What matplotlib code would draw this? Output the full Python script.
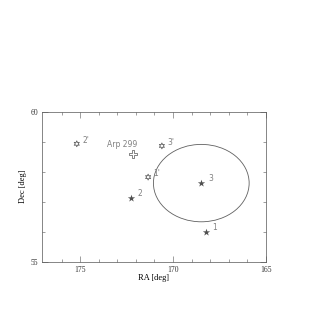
import matplotlib
matplotlib.use("Agg")
import matplotlib.pyplot as plt
from matplotlib.patches import Ellipse

# data
star_names = ["1", "2", "3"]
star_ra = [168.24, 172.27, 168.49]
star_dec = [56.00, 57.11, 57.62]

prime_names = ["1'", "2'", "3'"]
prime_ra = [171.34, 175.18, 170.60]
prime_dec = [57.82, 58.93, 58.86]

arp_name = "Arp 299"
arp_ra = [172.13]
arp_dec = [58.58]

circle_center = (168.48, 57.62)
circle_width = 5.15
circle_height = 2.58

fig = plt.figure(figsize=(3.17, 3.30), dpi=100)
ax = fig.add_axes([0.1325, 0.207, 0.7065, 0.4545])

gray = "#808080"
ax.scatter(star_ra, star_dec, marker="*", s=30, color="#505050", zorder=3,
           linewidth=0)
ax.scatter(prime_ra, prime_dec, marker=(6, 1, 0), s=18, facecolor="none",
           edgecolor="#606060", linewidth=0.6, zorder=3)
ax.scatter(arp_ra, arp_dec, marker="P", s=32, facecolor="white",
           edgecolor="#707070", linewidth=0.6, zorder=3)

for n, x, y in zip(star_names, star_ra, star_dec):
    ax.annotate(n, (x, y), xytext=(5, 0), textcoords="offset points",
                fontsize=5.5, color=gray, family="DejaVu Sans", va="bottom")
for n, x, y in zip(prime_names, prime_ra, prime_dec):
    ax.annotate(n, (x, y), xytext=(4, -1), textcoords="offset points",
                fontsize=5.5, color=gray, family="DejaVu Sans", va="bottom")
ax.annotate(arp_name, (arp_ra[0], arp_dec[0]), xytext=(-8, 4),
            textcoords="offset points", fontsize=5.5, color=gray,
            family="DejaVu Sans", ha="center", va="bottom")

ax.add_patch(Ellipse(circle_center, circle_width, circle_height,
                     facecolor="none", edgecolor="#606060", linewidth=0.6))

ax.set_xlim(177.05, 165)
ax.set_ylim(55, 60)
ax.set_xticks([175, 170, 165])
ax.set_xticks(range(166, 177), minor=True)
ax.set_yticks([55, 60])
ax.set_yticks([56, 57, 58, 59], minor=True)
ax.tick_params(which="both", direction="in", top=True, right=True,
               labelsize=5.5, colors="#555555", width=0.4, labelcolor="#333333")
ax.tick_params(which="major", length=4, pad=3)
ax.tick_params(which="minor", length=2.5)
for lab in ax.get_xticklabels() + ax.get_yticklabels():
    lab.set_family("Liberation Serif")
for s in ax.spines.values():
    s.set_linewidth(0.5)
    s.set_color("#555555")

ax.set_xlabel("RA [deg]", fontsize=6, family="Liberation Serif", labelpad=0)
ax.set_ylabel("Dec [deg]", fontsize=6, family="Liberation Serif")
ax.yaxis.set_label_coords(-0.068, 0.5)

fig.savefig("out.png", dpi=100)
